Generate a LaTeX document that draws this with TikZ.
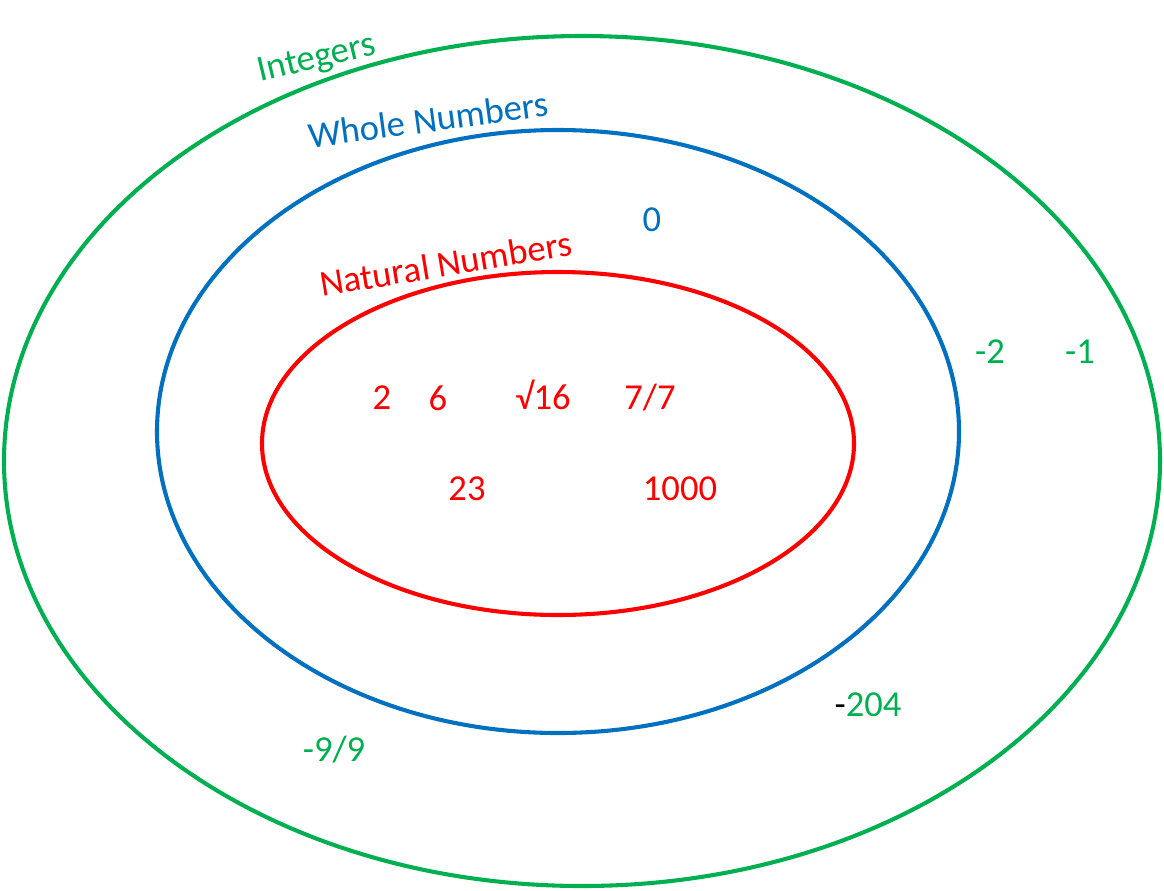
\documentclass[tikz,border=0pt]{standalone}
\usepackage{fontspec}
\setmainfont{Carlito}
\definecolor{intgreen}{RGB}{0,176,80}
\definecolor{wholeblue}{RGB}{0,112,192}
\definecolor{natred}{RGB}{255,0,0}

\begin{document}
\begin{tikzpicture}[x=0.025cm, y=-0.025cm, font=\fontsize{26}{30}\selectfont,
  ring/.style={line width=2.9pt},
  num/.style={inner sep=0pt},
  setname/.style={inner sep=0pt, anchor=base}]
\useasboundingbox (0,0) rectangle (1164,890);
% the three sets
\draw[ring, intgreen] (582,461) ellipse [x radius=578, y radius=425];
\draw[ring, wholeblue] (558,431.5) ellipse [x radius=401, y radius=301.5];
\draw[ring, natred] (558,443.5) ellipse [x radius=296, y radius=171.5];
% set names
\node[setname, intgreen, rotate=13.5] (intname) at (319,68) {Integers};
\node[setname, wholeblue, rotate=7.7] (wholename) at (430,132) {Whole Numbers};
\node[setname, natred, rotate=9.4] (natname) at (448,276) {Natural Numbers};
% natural numbers
\node[num, natred] (n2) at (382,398) {2};
\node[num, natred] (n6) at (438,398) {6};
\node[num, natred] (nsqrt) at (543,395) {√16};
\node[num, natred] (nfrac) at (650,398) {7/7};
\node[num, natred] (n23) at (467,489) {23};
\node[num, natred] (n1000) at (680,489) {1000};
% whole numbers
\node[num, wholeblue] (w0) at (652,220) {0};
% integers
\node[num, intgreen] (im2) at (990,352) {-2};
\node[num, intgreen] (im1) at (1080,352) {-1};
\node[num] (im204) at (868,705) {-\textcolor{intgreen}{204}};
\node[num, intgreen] (im99) at (334,750) {-9/9};
\end{tikzpicture}
\end{document}
